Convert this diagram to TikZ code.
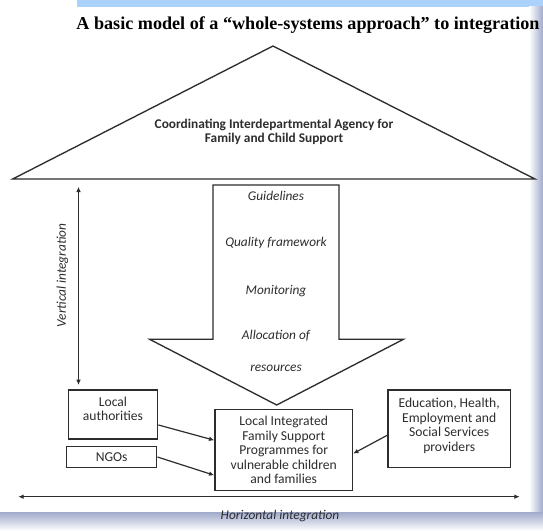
\documentclass[tikz,border=0pt]{standalone}
\usepackage{fontspec}
\setmainfont{Liberation Serif}
\setsansfont{Carlito}
\usetikzlibrary{arrows.meta}

\definecolor{barblue}{RGB}{170,210,250}
\definecolor{edgegrey}{RGB}{160,170,202}
\definecolor{ink}{RGB}{45,45,45}

\tikzset{every picture/.style={line width=0.75pt}}
\tikzset{
  boxed/.style={draw=ink, line width=1.1pt, align=center, inner sep=0pt, text=ink,
    font=\sffamily\fontsize{10.2}{10.9}\selectfont},
  lbl/.style={text=ink, align=center, font=\sffamily\itshape\fontsize{10}{11}\selectfont},
  link/.style={draw=ink, line width=0.9pt, -{Latex[length=4pt,width=3.5pt]}},
  twoway/.style={draw=ink, line width=0.9pt, {Latex[length=4pt,width=3.5pt]}-{Latex[length=4pt,width=3.5pt]}}
}

\begin{document}
\begin{tikzpicture}[x=0.75pt,y=0.75pt,yscale=-1,xscale=1]

% frame of the slide
\fill [white] (0,0) rectangle (543,531) ;
\fill [barblue] (77,0) rectangle (543,7) ;
\shade [left color=white, right color=edgegrey] (529,7) rectangle (543,531) ;
\shade [top color=edgegrey, bottom color=white] (0,512) rectangle (543,531) ;
\useasboundingbox (0,0) rectangle (543,531) ;

\node (title) at (308,25) [font=\bfseries\fontsize{13.6}{15}\selectfont] {A basic model of a “whole-systems approach” to integration};

% agency triangle
\draw [draw=ink, line width=1pt]  (12.7,179) -- (273,46) -- (535,179) -- cycle ;
\node (agency) at (274,131.7) [text=ink, align=center, font=\sffamily\bfseries\fontsize{10}{10.2}\selectfont] {Coordinating Interdepartmental Agency for\\Family and Child Support};

% downward arrow
\draw [draw=ink, line width=1pt]  (213,185) -- (339,185) -- (339,339.3) -- (403.4,339.3) -- (276.7,405) -- (149.6,339.3) -- (213,339.3) -- cycle ;
\node (guide) at (276,196) [lbl] {Guidelines};
\node (quality) at (276,243.3) [lbl] {Quality framework};
\node (monitor) at (276,291) [lbl] {Monitoring};
\node (alloc) at (276,350.8) [lbl, font=\sffamily\itshape\fontsize{10}{23.7}\selectfont] {Allocation of\\resources};

% boxes
\node (la) at (113,414.5) [boxed, minimum width=67pt, minimum height=36.75pt] {Local\\authorities\\[-2.3pt]};
\node (ngo) at (111.7,457) [boxed, minimum width=67.5pt, minimum height=15.5pt] {NGOs};
\node (lifsp) at (283.7,450) [boxed, minimum width=103pt, minimum height=61pt] {Local Integrated\\Family Support\\Programmes for\\vulnerable children\\and families};
\node (prov) at (449.2,428.7) [boxed, minimum width=91.7pt, minimum height=58pt] {Education, Health,\\Employment and\\Social Services\\providers\\[-5.3pt]};

\draw [link] (la.-13) -- (lifsp.172.5) ;
\draw [link] (ngo.east) -- (lifsp.200) ;
\draw [link] (prov.186) -- (lifsp.-3.3) ;

% integration axes
\coordinate (vtop) at (78.5,186.7) ;
\coordinate (vbot) at (78.5,385) ;
\coordinate (hleft) at (18.3,496.7) ;
\coordinate (hright) at (519.7,496.7) ;
\draw [twoway] (vtop) -- (vbot) ;
\draw [twoway] (hleft) -- (hright) ;

\node (vint) at (62.3,275.5) [lbl, rotate=90] {Vertical integration};
\node (hint) at (280,516) [lbl] {Horizontal integration};

\end{tikzpicture}
\end{document}
